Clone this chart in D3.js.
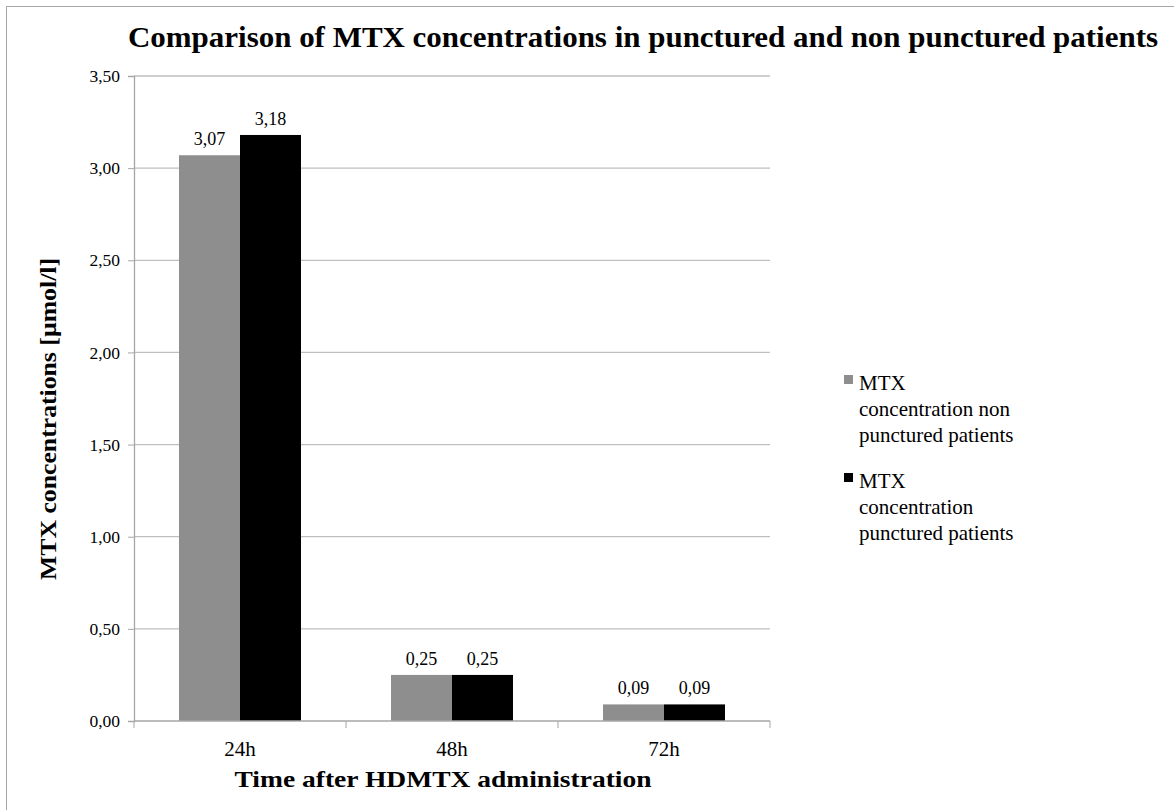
<!DOCTYPE html>
<html>
<head>
<meta charset="utf-8">
<script src="https://cdn.jsdelivr.net/npm/d3@7"></script>
<style>
  body { margin: 0; background: #fff; }
  text { font-family: "Liberation Serif", "Times New Roman", serif; fill: #000; }
</style>
</head>
<body>
<div id="chart"></div>
<script>
// data
const categories = ["24h", "48h", "72h"];
const seriesNames = [
  "MTX concentration non punctured patients",
  "MTX concentration punctured patients"
];
const nonPunctured = [3.07, 0.25, 0.09];
const punctured    = [3.18, 0.25, 0.09];
const yTicks = [0, 0.5, 1, 1.5, 2, 2.5, 3, 3.5];
const legendLines = [
  ["MTX", "concentration non", "punctured patients"],
  ["MTX", "concentration", "punctured patients"]
];
const colors = ["#8e8e8e", "#000000"];

const width = 1174, height = 810;
const margin = {top: 76, right: 404, bottom: 89, left: 134};
const plotW = width - margin.left - margin.right;
const plotH = height - margin.top - margin.bottom;

const fmt = v => d3.format(".2f")(v).replace(".", ",");

let svg = d3.select("#chart")
  .append("svg")
  .attr("width", width)
  .attr("height", height);

// outer frame
svg.append("rect")
  .attr("x", 6.5).attr("y", 6.5)
  .attr("width", width - 4).attr("height", height - 4)
  .attr("fill", "none")
  .attr("stroke", "#a6a6a6");

svg.append("text")
  .attr("x", 643).attr("y", 47)
  .attr("text-anchor", "middle")
  .attr("font-weight", "bold")
  .attr("font-size", "30px")
  .attr("textLength", 1030)
  .attr("lengthAdjust", "spacingAndGlyphs")
  .text("Comparison of MTX concentrations in punctured and non punctured patients");

let g = svg.append("g")
  .attr("transform", "translate(" + margin.left + "," + margin.top + ")");

/// scales
let x0 = d3.scaleBand().domain(categories).range([0, plotW]);
let x1 = d3.scaleBand().domain([0, 1]).range([0, x0.bandwidth()])
  .paddingInner(0).paddingOuter(0.738);
let y = d3.scaleLinear().domain([0, 3.5]).range([plotH, 0]);

/// gridlines
g.append("g")
  .selectAll("line")
  .data(yTicks.filter(d => d > 0))
  .enter()
  .append("line")
  .attr("x1", 0).attr("x2", plotW)
  .attr("y1", d => y(d)).attr("y2", d => y(d))
  .attr("stroke", "#bfbfbf")
  .attr("stroke-width", 1.3);

/// bars
let groups = g.selectAll(".cat")
  .data(categories)
  .enter()
  .append("g")
  .attr("transform", d => "translate(" + x0(d) + ",0)");

const seriesValues = [nonPunctured, punctured];
groups.each(function (cat, ci) {
  let gg = d3.select(this);
  [0, 1].forEach(si => {
    let v = seriesValues[si][ci];
    gg.append("rect")
      .attr("x", x1(si))
      .attr("y", y(v))
      .attr("width", x1.bandwidth())
      .attr("height", y(0) - y(v))
      .attr("fill", colors[si]);
    gg.append("text")
      .attr("x", x1(si) + x1.bandwidth() / 2)
      .attr("y", y(v) - 10)
      .attr("text-anchor", "middle")
      .attr("font-size", "18px")
      .text(fmt(v));
  });
});

/// axes
let yAxis = g.append("g")
  .call(d3.axisLeft(y).tickValues(yTicks).tickSize(6).tickPadding(8).tickFormat(fmt));
yAxis.select(".domain").attr("stroke", "#a6a6a6").attr("stroke-width", 1.3);
yAxis.selectAll(".tick line").attr("stroke", "#a6a6a6");
yAxis.selectAll(".tick text")
  .attr("font-family", "Liberation Serif")
  .attr("font-size", "17.5px")
  .attr("fill", "#000");

let xAxis = g.append("g")
  .attr("transform", "translate(0," + plotH + ")");
xAxis.append("line")
  .attr("x1", 0).attr("x2", plotW)
  .attr("stroke", "#a6a6a6").attr("stroke-width", 1.3);
xAxis.selectAll(".xt")
  .data(d3.range(categories.length + 1))
  .enter()
  .append("line")
  .attr("x1", i => i * x0.step()).attr("x2", i => i * x0.step())
  .attr("y1", 0).attr("y2", 7)
  .attr("stroke", "#a6a6a6");
xAxis.selectAll(".xl")
  .data(categories)
  .enter()
  .append("text")
  .attr("x", d => x0(d) + x0.bandwidth() / 2)
  .attr("y", 35)
  .attr("text-anchor", "middle")
  .attr("font-size", "21px")
  .text(d => d);

/// axis titles
svg.append("text")
  .attr("x", 443).attr("y", 787)
  .attr("text-anchor", "middle")
  .attr("font-weight", "bold")
  .attr("font-size", "24px")
  .attr("textLength", 417)
  .attr("lengthAdjust", "spacingAndGlyphs")
  .text("Time after HDMTX administration");

svg.append("text")
  .attr("transform", "translate(56,419) rotate(-90)")
  .attr("text-anchor", "middle")
  .attr("font-weight", "bold")
  .attr("font-size", "23px")
  .attr("textLength", 322)
  .attr("lengthAdjust", "spacingAndGlyphs")
  .text("MTX concentrations [µmol/l]");

/// legend
let legend = svg.append("g").attr("transform", "translate(844,0)");
const legendTops = [390, 488];
seriesNames.forEach((name, i) => {
  let lg = legend.append("g").attr("transform", "translate(0," + legendTops[i] + ")");
  lg.append("rect")
    .attr("x", 0).attr("y", -15)
    .attr("width", 9).attr("height", 9)
    .attr("fill", colors[i]);
  lg.append("text")
    .attr("font-size", "21px")
    .selectAll("tspan")
    .data(legendLines[i])
    .enter()
    .append("tspan")
    .attr("x", 15)
    .attr("y", (d, j) => j * 26)
    .text(d => d);
});
</script>
</body>
</html>
